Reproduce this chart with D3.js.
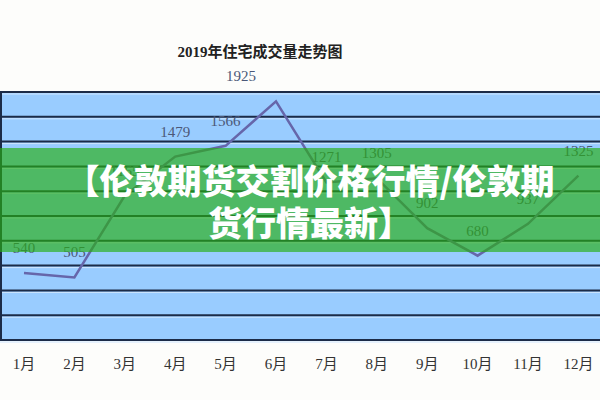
<!DOCTYPE html>
<html>
<head>
<meta charset="utf-8">
<script src="https://cdn.jsdelivr.net/npm/d3@7/dist/d3.min.js"></script>
<style>
  html, body { margin: 0; padding: 0; background: #fdfdfb; }
  svg { display: block; }
</style>
</head>
<body>
<script>
const title = "2019年住宅成交量走势图";
const months = ["1月","2月","3月","4月","5月","6月","7月","8月","9月","10月","11月","12月"];
const values = [540, 505, 1165, 1479, 1566, 1925, 1271, 1305, 902, 680, 937, 1325];
const bannerLines = ["【伦敦期货交割价格行情/伦敦期", "货行情最新】"];

const W = 600, H = 400;
const svg = d3.select("body").append("svg").attr("width", W).attr("height", H);

const x = d3.scalePoint().domain(months).range([24, 578.4]);
const y = d3.scaleLinear().domain([0, 2000]).range([340, 92]);

const serif = "'Liberation Serif', 'Noto Sans CJK SC', serif";

// title
svg.append("text").attr("x", 260).attr("y", 57).attr("text-anchor", "middle")
  .attr("font-family", "'Liberation Serif', 'Noto Sans CJK SC', serif").attr("font-weight", "bold")
  .attr("font-size", 15).attr("fill", "#222").text(title);

// plot background
svg.append("rect").attr("x", 0).attr("y", y(2000)).attr("width", W).attr("height", y(0) - y(2000))
  .attr("fill", "#99ccff");

// gridlines
const ticks = y.ticks(10);
svg.append("g").selectAll("line.hl").data(ticks).join("line")
  .attr("x1", 0).attr("x2", W).attr("y1", d => y(d) + 2).attr("y2", d => y(d) + 2)
  .attr("stroke", "#cfe6ff").attr("stroke-width", 1);
svg.append("g").selectAll("line.gl").data(ticks).join("line")
  .attr("x1", 0).attr("x2", W).attr("y1", d => y(d)).attr("y2", d => y(d))
  .attr("stroke", "#1c2b47").attr("stroke-width", 2);
svg.append("line").attr("x1", 1).attr("x2", 1).attr("y1", y(2000)).attr("y2", y(0))
  .attr("stroke", "#1c2b47").attr("stroke-width", 2);

// line
const line = d3.line().x((d, i) => x(months[i])).y(d => y(d));
svg.append("path").datum(values).attr("d", line).attr("fill", "none")
  .attr("stroke", "#6666aa").attr("stroke-width", 2.5).attr("stroke-linejoin", "miter");

// value labels
svg.append("g").selectAll("text").data(values).join("text")
  .attr("x", (d, i) => x(months[i]) + (d === d3.max(values) ? -35 : 0))
  .attr("y", d => y(d) - 20)
  .attr("text-anchor", "middle").attr("font-family", serif).attr("font-size", 15)
  .attr("fill", "#4b5878").text(d => d);

// month labels
svg.append("g").selectAll("text").data(months).join("text")
  .attr("x", d => x(d)).attr("y", 369).attr("text-anchor", "middle")
  .attr("font-family", serif).attr("font-size", 15).attr("fill", "#333").text(d => d);

// banner overlay
svg.append("rect").attr("x", 0).attr("y", 148).attr("width", W).attr("height", 104)
  .attr("fill", "rgb(40,175,20)").attr("fill-opacity", 0.66);
svg.append("g").selectAll("text").data(bannerLines).join("text")
  .attr("x", 310).attr("y", (d, i) => 194 + i * 42).attr("text-anchor", "middle")
  .attr("font-family", "'Noto Sans CJK SC', sans-serif").attr("font-weight", 900)
  .attr("font-size", 34).attr("fill", "#ffffff").text(d => d);
</script>
</body>
</html>
